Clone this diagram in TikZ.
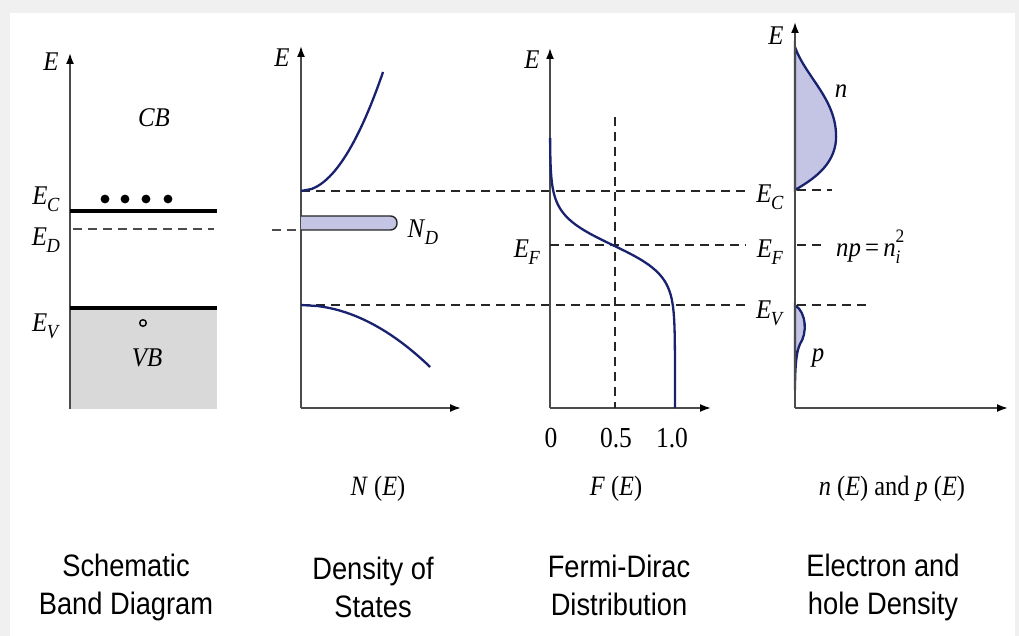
\documentclass[tikz,border=0pt]{standalone}
\usepackage{fontspec}
\setmainfont{Liberation Serif}
\newfontfamily\capfont{Liberation Sans}
\usetikzlibrary{arrows.meta}
\definecolor{curve}{RGB}{24,34,110}
\definecolor{lav}{RGB}{196,196,228}
\definecolor{axisc}{RGB}{75,75,75}
\definecolor{bandgray}{RGB}{217,217,217}
\definecolor{bgc}{RGB}{240,240,240}
\newcommand\Lsub[2]{\textit{#1}\kern-0.5pt\raisebox{-0.55ex}{\fontsize{20}{20}\selectfont\textit{#2}}}
\begin{document}
\begin{tikzpicture}[x=1pt,y=-1pt,
  axisline/.style={draw=axisc, line width=1.8},
  axisarrow/.style={axisline, -{Latex[length=11,width=8,color=black]}},
  level/.style={draw=black, line width=3.2},
  dashedline/.style={draw=black!85, line width=1.9, dash pattern=on 9pt off 6pt},
  lightdash/.style={draw=black!70, line width=1.5, dash pattern=on 9pt off 6pt},
  curveline/.style={draw=curve, line width=2.3},
  lbl/.style={font=\fontsize{27}{27}\selectfont, inner sep=0pt, xscale=0.92, transform shape},
  tick/.style={font=\fontsize{29}{29}\selectfont, inner sep=0pt, xscale=0.88, transform shape},
  fname/.style={font=\fontsize{28}{28}\selectfont, inner sep=0pt, xscale=0.87, transform shape},
  caption/.style={font=\capfont\fontsize{31}{38}\selectfont, align=center, inner sep=0pt, xscale=0.88, transform shape}
]
\useasboundingbox (0,0) rectangle (1019,636);
\fill[bgc] (0,0) rectangle (1019,636);
\fill[white] (10,13) rectangle (1015,636);

% ---------- Panel 1: schematic band diagram ----------
\coordinate (a1b) at (70,409);
\coordinate (a1t) at (70,53);
\fill[bandgray] (70,308) rectangle (217,409);
\draw[axisarrow] (a1b) -- (a1t);
\draw[level] (70,211) -- (217,211);
\draw[level] (70,308) -- (217,308);
\draw[lightdash] (73,229) -- (214,229);
\foreach \xx in {105,125,146,168} \fill (\xx,199) circle (4.4);
\draw[line width=1.4] (143,323) circle (3.3);
\node[lbl] (p1E) at (51,62) {\textit{E}};
\node[lbl] (p1CB) at (154,118) {\textit{CB}};
\node[lbl] (p1VB) at (147,358) {\textit{VB}};
\node[lbl] (p1EC) at (46,199) {\Lsub{E}{C}};
\node[lbl] (p1ED) at (46,240) {\Lsub{E}{D}};
\node[lbl] (p1EV) at (46,326) {\Lsub{E}{V}};

% ---------- Panel 2: density of states ----------
\coordinate (o2) at (301,408);
\draw[axisarrow] (o2) -- (301,46);
\draw[axisarrow] (o2) -- (461,408);
\draw[dashedline] (301,191) -- (746,191);
\draw[dashedline] (301,305) -- (746,305);
\draw[lightdash] (272,230) -- (301,230);
\draw[draw=black!85, line width=1.4, fill=lav, rounded corners=6.5]
  (301,216) -- (397,216) -- (397,230) -- (301,230);
\draw[curveline] plot[domain=0:119, samples=60, variable=\t] ({301+7.52*sqrt(\t)}, {191-\t});
\draw[curveline] plot[domain=0:62, samples=60, variable=\t] ({301+16.4*sqrt(\t)}, {305+\t});
\node[lbl] (p2E) at (282,58) {\textit{E}};
\node[lbl] (p2ND) at (423,232) {\Lsub{N}{D}};
\node[fname] (p2N) at (378,489) {\textit{N} (\textit{E})};

% ---------- Panel 3: Fermi-Dirac ----------
\coordinate (o3) at (550,408);
\draw[axisarrow] (o3) -- (550,48);
\draw[axisarrow] (o3) -- (711,408);
\draw[dashedline] (550,245) -- (746,245);
\draw[dashedline] (615,117) -- (615,408);
\draw[curveline] plot[domain=138:408, samples=120, variable=\t]
  ({550+125/(1+exp((245-\t)/15))}, \t);
\node[lbl] (p3E) at (532,60) {\textit{E}};
\node[lbl] (p3EF) at (527,252) {\Lsub{E}{F}};
\node[tick] (t0) at (551,438) {0};
\node[tick] (t05) at (616,438) {0.5};
\node[tick] (t10) at (672,438) {1.0};
\node[fname] (p3F) at (616,489) {\textit{F} (\textit{E})};

% ---------- Panel 4: electron and hole density ----------
\coordinate (o4) at (795,408);
\draw[curveline, fill=lav] (795,47) .. controls (806,78) and (838,100) .. (836,140)
  .. controls (834,166) and (812,180) .. (795,190) -- cycle;
\draw[curveline, fill=lav] (795,305) .. controls (807,313) and (807,334) .. (800,344)
  .. controls (796,352) and (795,370) .. (795,390) -- cycle;
\draw[axisarrow] (o4) -- (795,22);
\draw[axisarrow] (o4) -- (1008,408);
\draw[dashedline] (797,190) -- (832,190);
\draw[dashedline] (797,245) -- (824,245);
\draw[dashedline] (797,305) -- (868,305);
\node[lbl] (p4E) at (776,36) {\textit{E}};
\node[lbl] (p4n) at (841,91) {\textit{n}};
\node[lbl] (p4p) at (818,358) {\textit{p}};
\node[lbl] (p4EC) at (770,197) {\Lsub{E}{C}};
\node[lbl] (p4EF) at (770,252) {\Lsub{E}{F}};
\node[lbl] (p4EV) at (770,313) {\Lsub{E}{V}};
\node[lbl, anchor=west] (p4np) at (836,247)
  {\textit{np}\,=\,\textit{n}\rlap{\raisebox{-0.6ex}{\fontsize{19}{19}\selectfont\textit{i}}}\raisebox{1.1ex}{\fontsize{19}{19}\selectfont 2}};
\node[fname] (p4nE) at (892,489) {\textit{n} (\textit{E}) and \textit{p} (\textit{E})};

% ---------- captions ----------
\node[caption] (c1) at (126,587) {Schematic\\Band Diagram};
\node[caption] (c2) at (373,587) {Density of\\States};
\node[caption] (c3) at (619,585) {Fermi-Dirac\\Distribution};
\node[caption] (c4) at (883,587) {Electron and\\hole Density};
\end{tikzpicture}
\end{document}
